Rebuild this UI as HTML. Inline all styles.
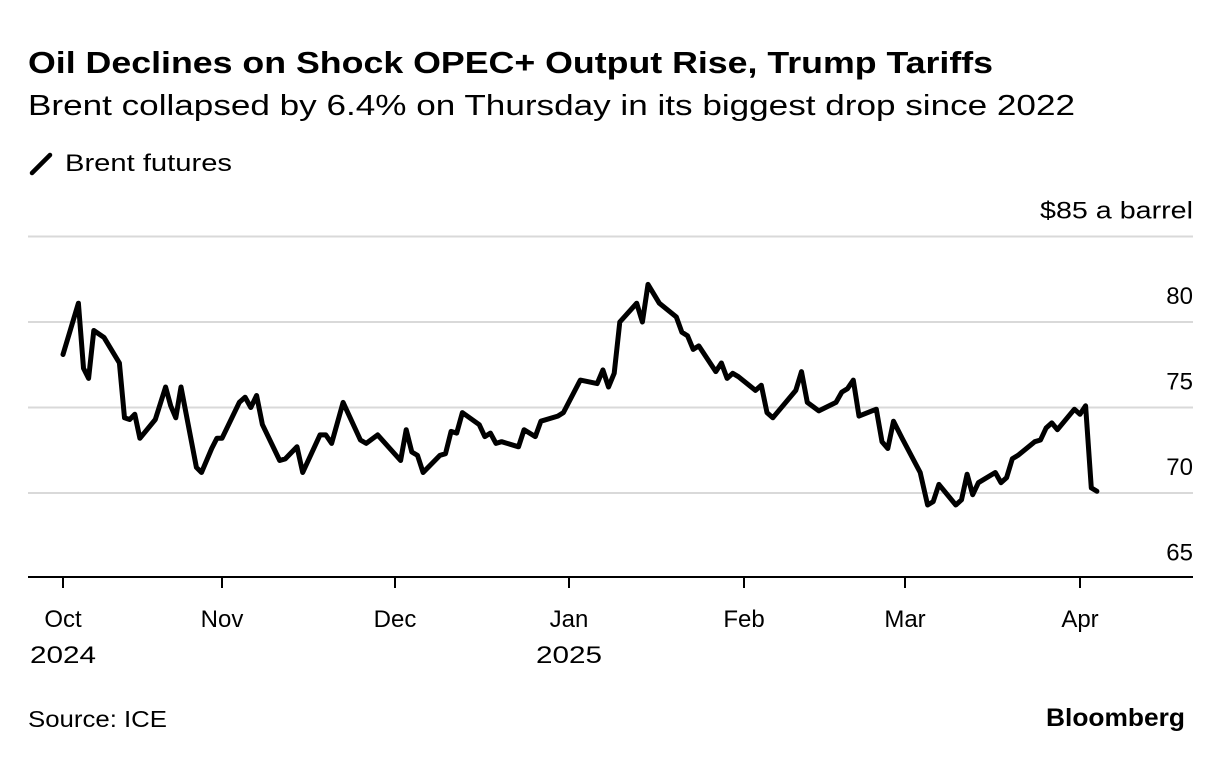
<!DOCTYPE html>
<html><head><meta charset="utf-8"><style>
body{margin:0;background:#fff;font-family:"Liberation Sans",sans-serif;}
svg{display:block}
</style></head><body>
<svg width="1223" height="760" viewBox="0 0 1223 760">
<text x="28" y="73" font-size="31" font-weight="bold" fill="#000" textLength="965" lengthAdjust="spacingAndGlyphs">Oil Declines on Shock OPEC+ Output Rise, Trump Tariffs</text>
<text x="28" y="115" font-size="29" fill="#000" textLength="1047" lengthAdjust="spacingAndGlyphs">Brent collapsed by 6.4% on Thursday in its biggest drop since 2022</text>
<line x1="32" y1="173" x2="50" y2="155" stroke="#000" stroke-width="4.5" stroke-linecap="round"/>
<text x="65" y="171" font-size="24" fill="#000" textLength="167" lengthAdjust="spacingAndGlyphs">Brent futures</text>
<g id="grid"></g>
<g id="xaxis"></g>
<path id="line" fill="none" stroke="#000" stroke-width="5" stroke-linejoin="round" stroke-linecap="round"/>
<text x="28" y="727" font-size="23" fill="#000" textLength="139" lengthAdjust="spacingAndGlyphs">Source: ICE</text>
<text x="1185" y="726" font-size="25" font-weight="bold" fill="#000" text-anchor="end" textLength="139" lengthAdjust="spacingAndGlyphs">Bloomberg</text>
</svg>
<script>
const days=[0,3,4,5,6,8,11,12,13,14,15,18,20,21,22,23,26,27,29,30,31,34,35,36,37,38,41,42,44,45,48,49,50,52,55,56,58,62,63,64,65,66,69,70,71,72,73,76,77,78,79,80,83,84,86,87,90,91,94,97,98,99,100,101,104,105,106,108,111,112,113,114,115,118,119,120,121,122,125,126,127,128,132,133,134,136,139,140,141,142,143,146,147,148,149,150.5,153.7,155,156,157,160,161,162,163,164,167,168,169,170,171,174,175,176,177,178,181,182,183,184,185];
const prices=[78.1,81.1,77.3,76.7,79.5,79.1,77.6,74.4,74.3,74.6,73.2,74.3,76.2,75.1,74.4,76.2,71.5,71.2,72.6,73.2,73.2,75.3,75.6,75.0,75.7,74.0,71.9,72.0,72.7,71.2,73.4,73.4,72.9,75.3,73.1,72.9,73.4,71.9,73.7,72.4,72.2,71.2,72.2,72.3,73.6,73.5,74.7,74.0,73.3,73.5,72.9,73.0,72.7,73.7,73.3,74.2,74.5,74.7,76.6,76.4,77.2,76.2,77.0,80.0,81.1,80.0,82.2,81.1,80.3,79.4,79.2,78.4,78.6,77.1,77.6,76.7,77.0,76.8,76.0,76.3,74.7,74.4,76.0,77.1,75.3,74.8,75.3,75.9,76.1,76.6,74.5,74.9,73.0,72.6,74.2,73.2,71.2,69.3,69.5,70.5,69.3,69.6,71.1,69.9,70.6,71.2,70.6,70.9,72.0,72.2,73.0,73.1,73.8,74.1,73.7,74.9,74.6,75.1,70.3,70.1];
const monthDays=[0,31,61,92,123,151,182];
const monthLabels=["Oct","Nov","Dec","Jan","Feb","Mar","Apr"];
const yearLabels=["2024","","","2025","","",""];
const yTicks=[65,70,75,80,85];
const monthPx=[63,222,395,569,744,905,1080];
function xs(d){
  for(let i=0;i<monthDays.length-1;i++){
    if(d<=monthDays[i+1]||i===monthDays.length-2){
      return monthPx[i]+(d-monthDays[i])*(monthPx[i+1]-monthPx[i])/(monthDays[i+1]-monthDays[i]);
    }
  }
}
function ys(v){return 493-(v-70)*17.1;}
const NS="http://www.w3.org/2000/svg";
const grid=document.getElementById('grid');
yTicks.forEach(t=>{
  const y=ys(t);
  if(t>65){
    const l=document.createElementNS(NS,'line');
    l.setAttribute('x1',28);l.setAttribute('x2',1193);l.setAttribute('y1',y);l.setAttribute('y2',y);
    l.setAttribute('stroke','#d9d9d9');l.setAttribute('stroke-width','2');
    
    
    grid.appendChild(l);
  }
  const tx=document.createElementNS(NS,'text');
  tx.setAttribute('x',1193);tx.setAttribute('y',y-18);tx.setAttribute('text-anchor','end');
  tx.setAttribute('font-size','24');
  tx.textContent=t===85?'$85 a barrel':String(t);
  if(t===85){tx.setAttribute('textLength','153');tx.setAttribute('lengthAdjust','spacingAndGlyphs');}
  
  
  grid.appendChild(tx);
});
const xa=document.getElementById('xaxis');
const base=document.createElementNS(NS,'line');
base.setAttribute('x1',28);base.setAttribute('x2',1193);base.setAttribute('y1',577);base.setAttribute('y2',577);
base.setAttribute('stroke','#000');base.setAttribute('stroke-width','2');


xa.appendChild(base);
monthDays.forEach((d,i)=>{
  const x=xs(d);
  const tk=document.createElementNS(NS,'line');
  tk.setAttribute('x1',x);tk.setAttribute('x2',x);tk.setAttribute('y1',577);tk.setAttribute('y2',588);
  tk.setAttribute('stroke','#000');tk.setAttribute('stroke-width','2');
  
  
  xa.appendChild(tk);
  const t=document.createElementNS(NS,'text');
  t.setAttribute('x',x);t.setAttribute('y',627);t.setAttribute('text-anchor','middle');t.setAttribute('font-size','24');
  t.textContent=monthLabels[i];
  
  
  xa.appendChild(t);
  if(yearLabels[i]){
    const t2=document.createElementNS(NS,'text');
    t2.setAttribute('x',x);t2.setAttribute('y',663);t2.setAttribute('text-anchor','middle');t2.setAttribute('font-size','24');
    t2.setAttribute('textLength','66');t2.setAttribute('lengthAdjust','spacingAndGlyphs');
    t2.textContent=yearLabels[i];
    
    
    xa.appendChild(t2);
  }
});
document.getElementById('line').setAttribute('d',days.map((d,i)=>(i?'L':'M')+xs(d).toFixed(1)+','+ys(prices[i]).toFixed(1)).join(' '));
</script>
</body></html>
